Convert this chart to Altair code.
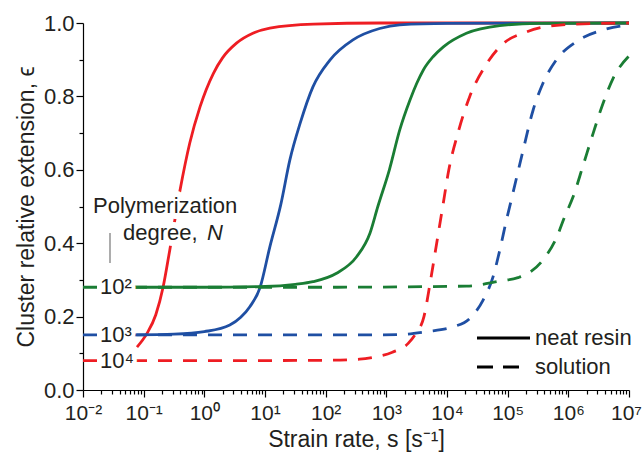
import altair as alt
import pandas as pd

# ---- data (x as log10 of strain rate) ----
neat_1e4_logx = [-1.11, -0.95, -0.80, -0.68, -0.57, -0.40, -0.24, -0.07, 0.15, 0.30, 0.53, 0.80, 1.08, 1.8, 2.9, 7.0]
neat_1e4_eps = [0.117, 0.153, 0.205, 0.28, 0.381, 0.545, 0.673, 0.772, 0.863, 0.905, 0.945, 0.972, 0.986, 0.997, 1.0, 1.0]

neat_1e3_logx = [-1.12, -0.5, 0.0, 0.42, 0.60, 0.75, 0.92, 1.08, 1.26, 1.41, 1.58, 1.79, 2.07, 2.45, 2.89, 3.22, 4.0, 7.0]
neat_1e3_eps = [0.150, 0.152, 0.159, 0.177, 0.198, 0.227, 0.28, 0.39, 0.505, 0.627, 0.727, 0.826, 0.899, 0.954, 0.985, 0.995, 0.999, 1.0]

neat_1e2_logx = [-1.14, 0.0, 1.0, 1.5, 1.79, 2.18, 2.51, 2.73, 2.86, 3.05, 3.22, 3.39, 3.50, 3.61, 3.77, 3.94, 4.32, 4.87, 5.5, 7.0]
neat_1e2_eps = [0.28, 0.28, 0.282, 0.288, 0.295, 0.318, 0.363, 0.427, 0.50, 0.60, 0.708, 0.79, 0.835, 0.872, 0.908, 0.935, 0.972, 0.993, 0.999, 1.0]

sol_1e4_logx = [-2.0, 0.0, 2.0, 2.56, 2.78, 3.1, 3.36, 3.47, 3.62, 3.73, 3.83, 3.93, 4.03, 4.18, 4.375, 4.62, 4.9, 5.3, 5.9, 7.0]
sol_1e4_eps = [0.08, 0.08, 0.081, 0.084, 0.089, 0.103, 0.127, 0.150, 0.20, 0.30, 0.40, 0.50, 0.60, 0.70, 0.80, 0.88, 0.94, 0.975, 0.995, 1.0]

sol_1e3_logx = [-2.0, 2.5, 3.22, 3.66, 4.10, 4.375, 4.595, 4.76, 4.87, 4.98, 5.06, 5.25, 5.42, 5.58, 5.80, 6.13, 6.57, 7.0]
sol_1e3_eps = [0.15, 0.15, 0.151, 0.159, 0.172, 0.195, 0.245, 0.309, 0.381, 0.463, 0.518, 0.65, 0.763, 0.835, 0.899, 0.949, 0.981, 0.995]

sol_1e2_logx = [-2.0, 2.0, 4.32, 4.87, 5.17, 5.36, 5.58, 5.80, 5.94, 6.08, 6.24, 6.41, 6.57, 6.74, 7.0]
sol_1e2_eps = [0.28, 0.28, 0.283, 0.297, 0.306, 0.32, 0.354, 0.413, 0.472, 0.527, 0.61, 0.70, 0.78, 0.85, 0.91]

series = [
    ("neat 1e4", neat_1e4_logx, neat_1e4_eps, "#ee1d23", False),
    ("neat 1e3", neat_1e3_logx, neat_1e3_eps, "#1f4fa3", False),
    ("neat 1e2", neat_1e2_logx, neat_1e2_eps, "#1a7d34", False),
    ("sol 1e4", sol_1e4_logx, sol_1e4_eps, "#ee1d23", True),
    ("sol 1e3", sol_1e3_logx, sol_1e3_eps, "#1f4fa3", True),
    ("sol 1e2", sol_1e2_logx, sol_1e2_eps, "#1a7d34", True),
]

N_labels = ["10²", "10³", "10⁴"]
N_label_eps = [0.28, 0.15, 0.08]

x_tick_values = [10.0 ** e for e in range(-2, 8)]
x_minor_values = [k * 10.0 ** e for e in range(-2, 7) for k in range(2, 10)]
y_tick_values = [0.0, 0.2, 0.4, 0.6, 0.8, 1.0]
y_minor_values = [0.1, 0.3, 0.5, 0.7, 0.9]

FONT = "Liberation Sans"
TXT = "#231f20"

rows = []
for name, lx, ey, col, dashed in series:
    for a, b in zip(lx, ey):
        rows.append({"series": name, "rate": 10.0 ** a, "eps": b})
df = pd.DataFrame(rows)
one = pd.DataFrame({"k": [0]})

xscale = alt.Scale(type="log", domain=[1e-2, 1e7], nice=False)
yscale = alt.Scale(domain=[0, 1], nice=False)

sup = "['⁻²','⁻¹','⁰','¹','²','³','⁴','⁵','⁶','⁷']"
x_axis = alt.Axis(
    orient="bottom", values=x_tick_values,
    labelExpr="'10' + " + sup + "[round(log(datum.value)/LN10)+2]",
    labelOffset={"condition": {"test": "datum.value > 1e6", "value": -3}, "value": 0},
    tickSize=7, tickColor="black", domainColor="black", tickWidth=1.2, domainWidth=1.2,
    labelFont=FONT, labelFontSize=21, labelColor=TXT, labelPadding=5,
    labelFlush=False, labelOverlap=False, grid=False,
    title="Strain rate, s [s⁻¹]", titleFont=FONT, titleFontSize=23,
    titleFontWeight="normal", titleColor=TXT, titlePadding=5,
)
x_axis_minor = alt.Axis(orient="bottom", values=x_minor_values, labels=False, domain=False,
                        tickSize=4, tickColor="black", tickWidth=1.2, grid=False, title=None)
y_axis = alt.Axis(
    orient="left", values=y_tick_values, format=".1f",
    tickSize=7, tickColor="black", domainColor="black", tickWidth=1.2, domainWidth=1.2,
    labelFont=FONT, labelFontSize=22, labelColor=TXT, labelPadding=2, grid=False,
    labelFlush=False,
    title="Cluster relative extension, ϵ", titleFont=FONT, titleFontSize=23,
    titleFontWeight="normal", titleColor=TXT, titlePadding=5,
)
y_axis_minor = alt.Axis(orient="left", values=y_minor_values, labels=False, domain=False,
                        tickSize=4, tickColor="black", tickWidth=1.2, grid=False, title=None)

layers = []
first = True
for name, lx, ey, col, dashed in series:
    kw = dict(color=col, strokeWidth=2.8, interpolate="monotone")
    if dashed:
        kw["strokeDash"] = [14, 11]
    layers.append(
        alt.Chart(df[df.series == name]).mark_line(**kw).encode(
            x=alt.X("rate:Q", scale=xscale, axis=x_axis if first else None),
            y=alt.Y("eps:Q", scale=yscale, axis=y_axis if first else None),
        )
    )
    first = False

minor_layer = alt.Chart(df).mark_point(opacity=0).encode(
    x=alt.X("rate:Q", scale=xscale, axis=x_axis_minor),
    y=alt.Y("eps:Q", scale=yscale, axis=y_axis_minor),
)

lab_df = pd.DataFrame({"label": N_labels, "eps": N_label_eps})
lab_halo = alt.Chart(lab_df).mark_text(
    align="left", baseline="middle", font=FONT, fontSize=22,
    fill="white", stroke="white", strokeWidth=8, strokeJoin="round",
).encode(x=alt.value(17), y=alt.Y("eps:Q", scale=yscale, axis=None), text="label:N")
lab_text = alt.Chart(lab_df).mark_text(
    align="left", baseline="middle", font=FONT, fontSize=22, color=TXT,
).encode(x=alt.value(17), y=alt.Y("eps:Q", scale=yscale, axis=None), text="label:N")

ann_df = pd.DataFrame({"t": ["Polymerization", "degree,", "N"],
                       "px": [10, 40, 124], "py": [190, 217, 217],
                       "it": ["normal", "normal", "italic"]})
ann_halo = alt.Chart(ann_df).mark_text(
    align="left", baseline="alphabetic", font=FONT, fontSize=22,
    fill="white", stroke="white", strokeWidth=12, strokeJoin="round",
).encode(x=alt.X("px:Q", scale=None, axis=None), y=alt.Y("py:Q", scale=None, axis=None), text="t:N")
ann_norm = alt.Chart(ann_df[ann_df.it == "normal"]).mark_text(
    align="left", baseline="alphabetic", font=FONT, fontSize=22, color=TXT,
).encode(x=alt.X("px:Q", scale=None, axis=None), y=alt.Y("py:Q", scale=None, axis=None), text="t:N")
ann_ital = alt.Chart(ann_df[ann_df.it == "italic"]).mark_text(
    align="left", baseline="alphabetic", font=FONT, fontSize=22, color=TXT, fontStyle="italic",
).encode(x=alt.X("px:Q", scale=None, axis=None), y=alt.Y("py:Q", scale=None, axis=None), text="t:N")

gray_rule = alt.Chart(one).mark_rule(color="#808080", strokeWidth=1.3).encode(
    x=alt.value(27), y=alt.value(210), y2=alt.value(240))

leg_solid = alt.Chart(one).mark_rule(color="black", strokeWidth=3).encode(
    x=alt.value(394), x2=alt.value(447), y=alt.value(315))
leg_dash = alt.Chart(one).mark_rule(color="black", strokeWidth=3, strokeDash=[16, 10]).encode(
    x=alt.value(394), x2=alt.value(437), y=alt.value(344))
leg_t1 = alt.Chart(one).mark_text(align="left", baseline="alphabetic", font=FONT, fontSize=22,
                                  color=TXT, text="neat resin").encode(x=alt.value(452), y=alt.value(322))
leg_t2 = alt.Chart(one).mark_text(align="left", baseline="alphabetic", font=FONT, fontSize=22,
                                  color=TXT, text="solution").encode(x=alt.value(452), y=alt.value(351))

chart = alt.layer(
    minor_layer, *layers, lab_halo, lab_text, ann_halo, ann_norm, ann_ital, gray_rule,
    leg_solid, leg_dash, leg_t1, leg_t2,
).resolve_axis(x="independent", y="independent").properties(
    width=546, height=367,
    autosize=alt.AutoSizeParams(type="none"),
    padding={"left": 83, "top": 23, "right": 14, "bottom": 68},
    background="white",
).configure_view(stroke=None)

chart.save("out.html", embed_options={"renderer": "svg", "actions": False})
